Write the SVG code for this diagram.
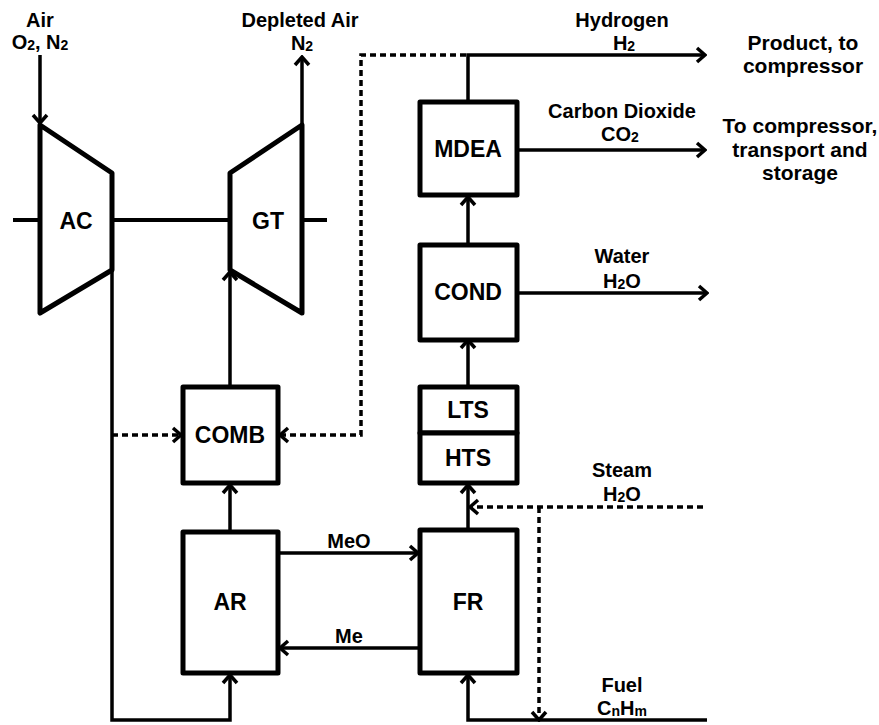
<svg xmlns="http://www.w3.org/2000/svg" width="879" height="725" viewBox="0 0 879 725">
<style>
.box{fill:#fff;stroke:#000;stroke-width:5;stroke-linejoin:round}
.unit{fill:#fff;stroke:#000;stroke-width:5;stroke-linejoin:round}
.ln{fill:none;stroke:#000;stroke-width:3.5}
.dash{fill:none;stroke:#000;stroke-width:3.5;stroke-dasharray:6,4}
.shaft{fill:none;stroke:#000;stroke-width:4}
text{font-family:"Liberation Sans",Arial,sans-serif;font-weight:bold;fill:#000;text-anchor:middle}
.bl{font-size:23px}
.fl{font-size:20px}
.rl{font-size:21px}
.sub{font-size:14px}
</style>
<defs>
<marker id="ah" markerUnits="userSpaceOnUse" viewBox="-12 -10 14 20" refX="0" refY="0" markerWidth="14" markerHeight="20" orient="auto">
<path d="M-8,-7 L0,0 L-8,7" fill="none" stroke="#000" stroke-width="3.5" stroke-dasharray="none"/>
</marker>
</defs>
<g id="connectors">
<line class="ln" x1="40" y1="55" x2="40" y2="123" marker-end="url(#ah)"/>
<line class="ln" x1="302" y1="125" x2="302" y2="57" marker-end="url(#ah)"/>
<line class="shaft" x1="13" y1="220" x2="40" y2="220"/>
<line class="shaft" x1="112" y1="220" x2="230" y2="220"/>
<line class="shaft" x1="302" y1="220" x2="327" y2="220"/>
<polyline class="ln" points="112,270 112,720 230,720 230,675" marker-end="url(#ah)"/>
<line class="ln" x1="230" y1="532" x2="230" y2="485" marker-end="url(#ah)"/>
<line class="ln" x1="230" y1="387" x2="230" y2="272" marker-end="url(#ah)"/>
<line class="dash" x1="112" y1="435" x2="181" y2="435" marker-end="url(#ah)"/>
<polyline class="dash" points="466,55 361,55 361,435 280,435" marker-end="url(#ah)"/>
<polyline class="ln" points="468,102 468,55 705,55" marker-end="url(#ah)"/>
<line class="ln" x1="517" y1="150" x2="705" y2="150" marker-end="url(#ah)"/>
<line class="ln" x1="468" y1="245" x2="468" y2="197" marker-end="url(#ah)"/>
<line class="ln" x1="517" y1="293" x2="707" y2="293" marker-end="url(#ah)"/>
<line class="ln" x1="468" y1="387" x2="468" y2="340" marker-end="url(#ah)"/>
<line class="ln" x1="468" y1="530" x2="468" y2="485" marker-end="url(#ah)"/>
<line class="dash" x1="703" y1="507" x2="470" y2="507" marker-end="url(#ah)"/>
<line class="dash" x1="539" y1="507" x2="539" y2="720" marker-end="url(#ah)"/>
<polyline class="ln" points="707,720 468,720 468,675" marker-end="url(#ah)"/>
<line class="ln" x1="278" y1="553" x2="418" y2="553" marker-end="url(#ah)"/>
<line class="ln" x1="420" y1="648" x2="280" y2="648" marker-end="url(#ah)"/>
</g>
<g id="AC">
<polygon class="unit" points="40,125 112,173 112,270 40,313"/>
<text class="bl" x="76" y="229">AC</text>
</g>
<g id="GT">
<polygon class="unit" points="230,173 302,125 302,313 230,270"/>
<text class="bl" x="268" y="229">GT</text>
</g>
<g id="COMB">
<rect class="box" x="183" y="387" width="95" height="96"/>
<text class="bl" x="230" y="443">COMB</text>
</g>
<g id="AR">
<rect class="box" x="183" y="532" width="95" height="141"/>
<text class="bl" x="230" y="610">AR</text>
</g>
<g id="MDEA">
<rect class="box" x="420" y="102" width="97" height="93"/>
<text class="bl" x="468" y="157">MDEA</text>
</g>
<g id="COND">
<rect class="box" x="420" y="245" width="97" height="95"/>
<text class="bl" x="468" y="300">COND</text>
</g>
<g id="LTS">
<rect class="box" x="420" y="387" width="97" height="46"/>
<text class="bl" x="468" y="418">LTS</text>
</g>
<g id="HTS">
<rect class="box" x="420" y="433" width="97" height="50"/>
<text class="bl" x="468" y="466">HTS</text>
</g>
<g id="FR">
<rect class="box" x="420" y="530" width="97" height="143"/>
<text class="bl" x="468" y="610">FR</text>
</g>
<g id="labels">
<text class="fl" x="40" y="27">Air</text>
<text class="fl" x="40" y="49">O<tspan class="sub" dy="1">2</tspan><tspan dy="-1">, N</tspan><tspan class="sub" dy="1">2</tspan></text>
<text class="fl" x="300" y="27">Depleted Air</text>
<text class="fl" x="302" y="50">N<tspan class="sub" dy="1">2</tspan></text>
<text class="fl" x="622" y="27">Hydrogen</text>
<text class="fl" x="624" y="50">H<tspan class="sub" dy="1">2</tspan></text>
<text class="fl" x="622" y="118">Carbon Dioxide</text>
<text class="fl" x="620" y="141">CO<tspan class="sub" dy="1">2</tspan></text>
<text class="fl" x="622" y="263">Water</text>
<text class="fl" x="622" y="288">H<tspan class="sub" dy="1">2</tspan><tspan dy="-1">O</tspan></text>
<text class="fl" x="622" y="477">Steam</text>
<text class="fl" x="622" y="501">H<tspan class="sub" dy="1">2</tspan><tspan dy="-1">O</tspan></text>
<text class="fl" x="622" y="692">Fuel</text>
<text class="fl" x="622" y="715">C<tspan class="sub" dy="1">n</tspan><tspan dy="-1">H</tspan><tspan class="sub" dy="1">m</tspan></text>
<text class="fl" x="349" y="548">MeO</text>
<text class="fl" x="349" y="643">Me</text>
<text class="rl" x="803" y="50">Product, to</text>
<text class="rl" x="803" y="73">compressor</text>
<text class="rl" x="800" y="133">To compressor,</text>
<text class="rl" x="800" y="157">transport and</text>
<text class="rl" x="800" y="180">storage</text>
</g>
</svg>
